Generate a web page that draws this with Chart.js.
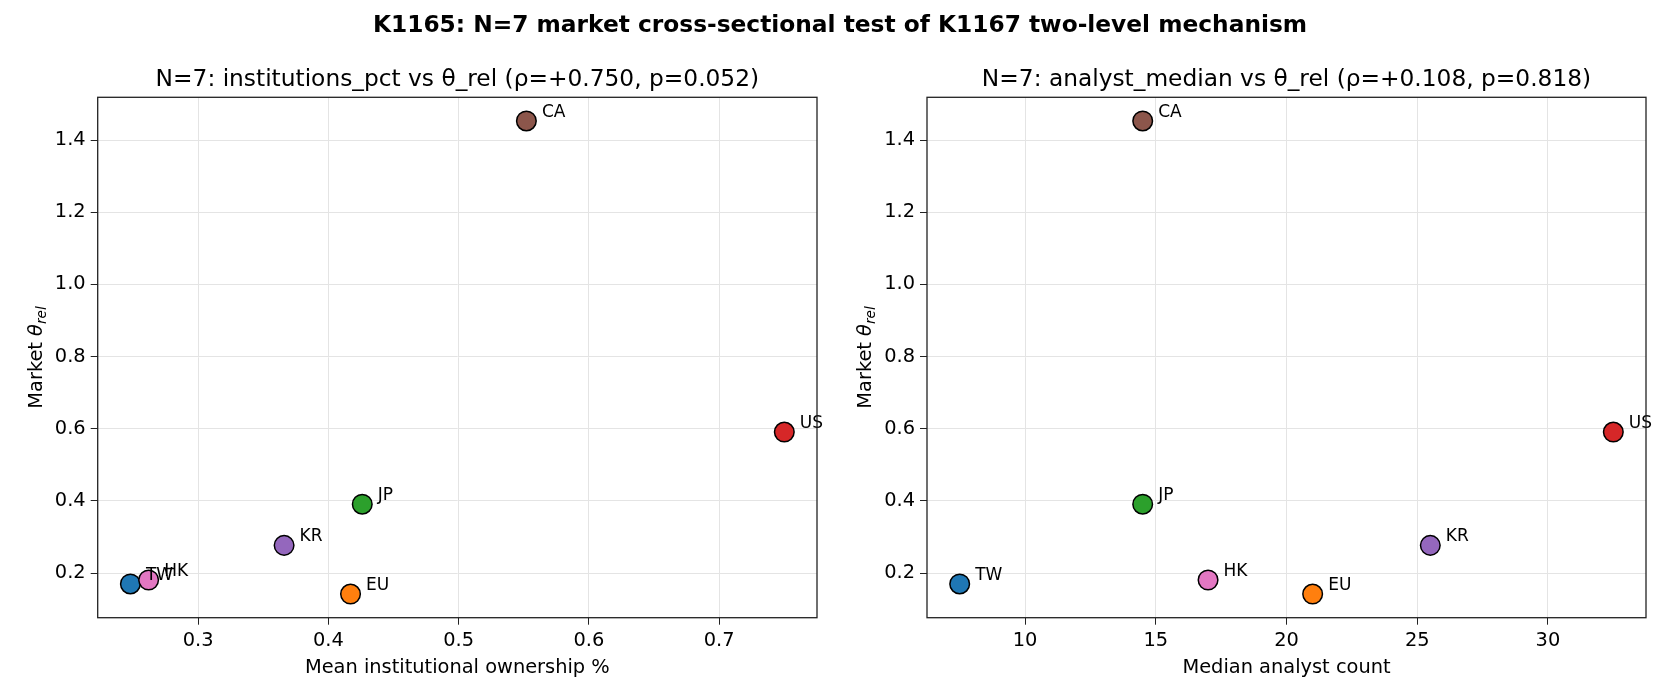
<!DOCTYPE html>
<html>
<head>
<meta charset="utf-8">
<script src="https://cdn.jsdelivr.net/npm/chart.js@4.4.1/dist/chart.umd.min.js"></script>
<style>
  html, body { margin: 0; padding: 0; background: #fff; }
  body { width: 1680px; height: 700px; position: relative; overflow: hidden; }
  #sup { position: absolute; left: 0; top: 0; width: 1680px; height: 48px; line-height: 48px;
         text-align: center; font-family: "DejaVu Sans", sans-serif; font-weight: bold; font-size: 23.3px; color: #000; z-index: 2; }
  canvas { position: absolute; top: 0; }
  #c1 { left: 0; }
  #c2 { left: 840px; }
</style>
</head>
<body>
<div id="sup">K1165: N=7 market cross-sectional test of K1167 two-level mechanism</div>
<canvas id="c1" width="840" height="700"></canvas>
<canvas id="c2" width="840" height="700"></canvas>
<script>
// ---- data ----
const markets = ['TW', 'EU', 'JP', 'US', 'KR', 'CA', 'HK'];
const marketColors = ['#1f77b4', '#ff7f0e', '#2ca02c', '#d62728', '#9467bd', '#8c564b', '#e377c2'];
const institutionsPct = [0.248, 0.417, 0.426, 0.750, 0.366, 0.552, 0.262];
const analystMedian = [7.5, 21.0, 14.5, 32.5, 25.5, 14.5, 17.0];
const thetaRel = [0.170, 0.142, 0.391, 0.591, 0.277, 1.453, 0.181];

const yTicks = [0.2, 0.4, 0.6, 0.8, 1.0, 1.2, 1.4];
const yTickLabels = ['0.2', '0.4', '0.6', '0.8', '1.0', '1.2', '1.4'];
const xTicksInst = [0.3, 0.4, 0.5, 0.6, 0.7];
const xTickLabelsInst = ['0.3', '0.4', '0.5', '0.6', '0.7'];
const xTicksAnalyst = [10, 15, 20, 25, 30];
const xTickLabelsAnalyst = ['10', '15', '20', '25', '30'];
const xRangeInst = [0.2229, 0.7751];
const xRangeAnalyst = [6.25, 33.75];
const yRange = [0.0765, 1.5186];

const titleInst = 'N=7: institutions_pct vs θ_rel (ρ=+0.750, p=0.052)';
const titleAnalyst = 'N=7: analyst_median vs θ_rel (ρ=+0.108, p=0.818)';
const xTitleInst = 'Mean institutional ownership %';
const xTitleAnalyst = 'Median analyst count';

// ---- drawing ----
const FONT = '"DejaVu Sans", sans-serif';
const TICK = 19.4;

function makeChart(id, xVals, xTicks, xTickLabels, xRange, title, xTitle, geom) {
  const decor = {
    id: 'decor',
    afterDatasetsDraw(chart) {
      const ctx = chart.ctx, a = chart.chartArea;
      const xs = chart.scales.x, ys = chart.scales.y;
      ctx.save();
      // annotations
      ctx.fillStyle = '#000';
      ctx.font = '17px ' + FONT;
      ctx.textAlign = 'left';
      ctx.textBaseline = 'alphabetic';
      markets.forEach((m, i) => {
        const px = xs.getPixelForValue(xVals[i]);
        const py = ys.getPixelForValue(thetaRel[i]);
        ctx.fillText(m, px + 15.5, py - 4);
      });
      // spines
      ctx.strokeStyle = '#222';
      ctx.lineWidth = 1.3;
      ctx.strokeRect(a.left, a.top, a.right - a.left, a.bottom - a.top);
      // axes title
      const cx = (a.left + a.right) / 2;
      ctx.textAlign = 'center';
      ctx.font = '23.3px ' + FONT;
      ctx.fillText(title, cx, a.top - 11);
      // x title
      ctx.font = TICK + 'px ' + FONT;
      ctx.fillText(xTitle, cx, 673);
      // y title with math
      const cy = (a.top + a.bottom) / 2;
      ctx.translate(a.left - 56, cy);
      ctx.rotate(-Math.PI / 2);
      ctx.textAlign = 'left';
      const f1 = TICK + 'px ' + FONT, f2 = 'italic ' + TICK + 'px ' + FONT, f3 = 'italic 13.6px ' + FONT;
      ctx.font = f1; const w1 = ctx.measureText('Market ').width;
      ctx.font = f2; const w2 = ctx.measureText('θ').width;
      ctx.font = f3; const w3 = ctx.measureText('rel').width;
      let x0 = -(w1 + w2 + w3) / 2;
      ctx.font = f1; ctx.fillText('Market ', x0, 0); x0 += w1;
      ctx.font = f2; ctx.fillText('θ', x0, 0); x0 += w2;
      ctx.font = f3; ctx.fillText('rel', x0, 4);
      ctx.restore();
    }
  };

  return new Chart(document.getElementById(id), {
    type: 'scatter',
    data: {
      datasets: [{
        data: xVals.map((x, i) => ({ x: x, y: thetaRel[i] })),
        pointBackgroundColor: marketColors,
        pointBorderColor: '#000',
        pointBorderWidth: 1.5,
        pointRadius: 9.8,
        pointHoverRadius: 9.8
      }]
    },
    options: {
      responsive: false,
      animation: false,
      devicePixelRatio: 1,
      events: [],
      layout: { padding: { left: 0, right: geom.padRight, top: 97.3, bottom: 0 } },
      plugins: { legend: { display: false }, tooltip: { enabled: false } },
      scales: {
        x: {
          type: 'linear',
          min: xRange[0], max: xRange[1],
          afterBuildTicks: s => { s.ticks = xTicks.map(v => ({ value: v })); },
          afterFit: s => { s.height = 700 - 617.7; },
          ticks: {
            color: '#000', font: { family: FONT, size: TICK }, padding: 5,
            maxRotation: 0, autoSkip: false,
            callback: (v, i) => xTickLabels[i]
          },
          grid: { color: '#e4e4e4', lineWidth: 1, tickColor: '#222', tickLength: 7 },
          border: { display: false }
        },
        y: {
          type: 'linear',
          min: yRange[0], max: yRange[1],
          afterBuildTicks: s => { s.ticks = yTicks.map(v => ({ value: v })); },
          afterFit: s => { s.width = geom.yWidth; },
          ticks: {
            color: '#000', font: { family: FONT, size: TICK }, padding: 5,
            autoSkip: false,
            callback: (v, i) => yTickLabels[i]
          },
          grid: { color: '#e4e4e4', lineWidth: 1, tickColor: '#222', tickLength: 7 },
          border: { display: false }
        }
      }
    },
    plugins: [decor]
  });
}

makeChart('c1', institutionsPct, xTicksInst, xTickLabelsInst, xRangeInst, titleInst, xTitleInst,
  { padRight: 23, yWidth: 97.7 });
makeChart('c2', analystMedian, xTicksAnalyst, xTickLabelsAnalyst, xRangeAnalyst, titleAnalyst, xTitleAnalyst,
  { padRight: 34, yWidth: 87 });
</script>
</body>
</html>
